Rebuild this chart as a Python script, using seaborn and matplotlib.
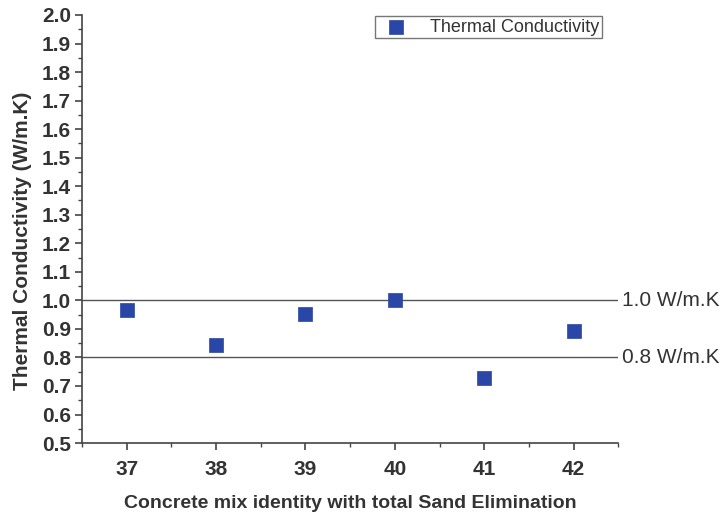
import matplotlib
matplotlib.use("Agg")
import matplotlib.pyplot as plt
from matplotlib.ticker import MultipleLocator, FormatStrFormatter
import seaborn as sns
import pandas as pd

mix_ids = [37, 38, 39, 40, 41, 42]
conductivity = [0.965, 0.845, 0.952, 1.0, 0.729, 0.891]
limit_values = [1.0, 0.8]
limit_labels = ["1.0 W/m.K", "0.8 W/m.K"]

sns.set_theme(style="ticks")
plt.rcParams["font.family"] = ["Liberation Sans", "DejaVu Sans"]

df = pd.DataFrame({"mix": mix_ids, "k": conductivity})

fig = plt.figure(figsize=(7.21, 5.17), dpi=100)
ax = fig.add_axes([0.1137, 0.143, 0.744, 0.828])

text_col = "#333333"
for v, lab in zip(limit_values, limit_labels):
    ax.axhline(v, color="#555555", lw=1.0, zorder=1)
    ax.text(1.006, v, lab, transform=ax.get_yaxis_transform(), ha="left",
            va="center", fontsize=15, color=text_col, clip_on=False)

sns.scatterplot(data=df, x="mix", y="k", marker="s", s=105, color="#2a46a6",
                edgecolor="#2a46a6", linewidth=0.5, label="Thermal Conductivity",
                ax=ax, zorder=3)

ax.set_xlim(36.5, 42.5)
ax.set_ylim(0.5, 2.0)
ax.xaxis.set_major_locator(MultipleLocator(1))
ax.xaxis.set_minor_locator(MultipleLocator(0.5))
ax.yaxis.set_major_locator(MultipleLocator(0.1))
ax.yaxis.set_minor_locator(MultipleLocator(0.05))
ax.yaxis.set_major_formatter(FormatStrFormatter("%.1f"))

for side in ["top", "right"]:
    ax.spines[side].set_visible(False)
for side in ["left", "bottom"]:
    ax.spines[side].set_color("#444444")
    ax.spines[side].set_linewidth(1.2)

ax.tick_params(which="major", direction="out", length=5, width=1.2,
               color="#444444", labelsize=15, labelcolor=text_col, pad=3)
ax.tick_params(which="minor", direction="out", length=3, width=1.0,
               color="#444444")
for lab in ax.get_xticklabels() + ax.get_yticklabels():
    lab.set_fontweight("bold")
ax.tick_params(axis="x", pad=7)

ax.set_xlabel("Concrete mix identity with total Sand Elimination",
              fontsize=14, fontweight="bold", color=text_col)
ax.set_ylabel("Thermal Conductivity (W/m.K)", fontsize=15, fontweight="bold",
              color=text_col)
ax.xaxis.set_label_coords(0.5, -0.121)
ax.yaxis.set_label_coords(-0.094, 0.472)

leg = ax.legend(loc="upper right", bbox_to_anchor=(0.969, 0.998), frameon=True,
                fancybox=False, fontsize=13, handletextpad=0.9,
                borderpad=0.15, borderaxespad=0.0, markerscale=1.0)
leg.get_frame().set_edgecolor("#555555")
leg.get_frame().set_linewidth(1.0)
for t in leg.get_texts():
    t.set_color(text_col)

fig.savefig("out.png", dpi=100)
